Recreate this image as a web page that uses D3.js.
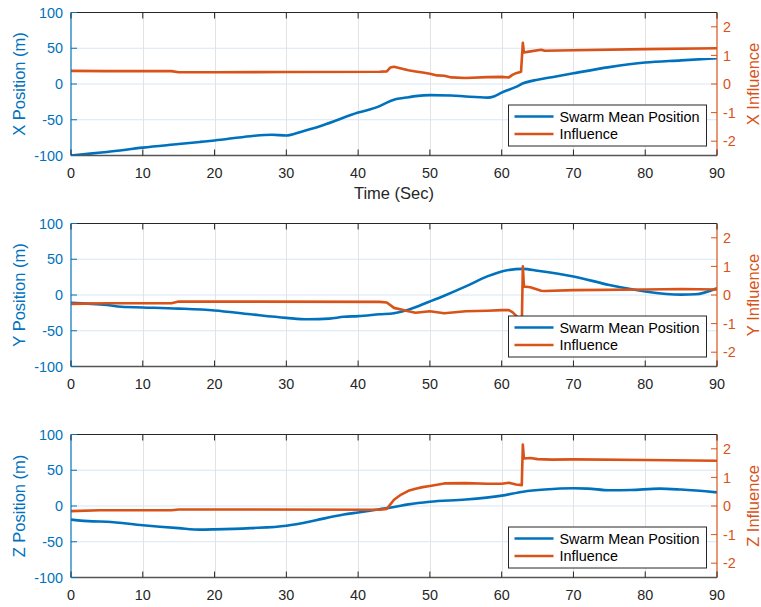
<!DOCTYPE html>
<html><head><meta charset="utf-8">
<script src="https://cdn.jsdelivr.net/npm/d3@7"></script>
<style>body{margin:0;background:#fff}svg{display:block}text{font-family:"Liberation Sans",Arial,sans-serif}</style>
</head><body>
<svg id="c" width="761" height="607"></svg>
<script>
// ---- data ----
const xTicks = [0,10,20,30,40,50,60,70,80,90];
const leftTicks = [-100,-50,0,50,100];
const rightTicks = [-2,-1,0,1,2];
const panelNames = ["X","Y","Z"];
const legendLabels = ["Swarm Mean Position","Influence"];

const xPosT = [0,3,5,10,15,18,20,25,28,30,32,35,40,43,44,45,46,47,48,50,53,55,58,59,60,62,63,65,67,70,75,80,85,90];
const xPosV = [-100,-97,-95,-89,-84,-81,-79,-73,-71,-72,-67,-58,-40,-31,-26,-22,-20,-18.5,-17,-15.5,-16,-17.5,-19,-17,-12,-4,1,6,9.5,15,23.6,30,33,36];
const xInfT = [0,5,14,15,20,30,43,44,44.5,45,46,47,48,49,50,51,52,53,55,58,60,61,61.5,62,62.7,62.95,63.1,64,65.5,66,70,80,90];
const xInfV = [0.46,0.45,0.45,0.41,0.41,0.42,0.43,0.44,0.58,0.6,0.54,0.48,0.44,0.40,0.36,0.30,0.29,0.23,0.21,0.24,0.25,0.23,0.32,0.38,0.43,1.44,1.1,1.14,1.2,1.16,1.18,1.22,1.25];

const yPosT = [0,5,7,10,15,20,25,30,33,36,38,40,43,45,47,50,52,55,58,60,63,65,70,75,80,85,87,90];
const yPosV = [-11,-14,-16.5,-17.4,-19,-21.6,-27,-32,-34,-33,-30.5,-29.6,-27,-25.4,-20.6,-9,-1,12,26,33,36.6,34,26,14,5,0.5,1,9.4];
const yInfT = [0,5,14,15,20,43,44,45,46,47,48,50,52,55,58,60,61,61.5,62,62.4,62.8,62.95,63.1,64,65.5,66,70,80,85,90];
const yInfV = [-0.31,-0.29,-0.29,-0.23,-0.23,-0.24,-0.26,-0.45,-0.51,-0.57,-0.62,-0.57,-0.64,-0.57,-0.55,-0.53,-0.53,-0.6,-0.72,-0.85,-1.1,1.0,0.3,0.27,0.15,0.14,0.17,0.19,0.21,0.19];

const zPosT = [0,3,5,10,15,18,20,25,30,33,35,38,40,43,45,47,50,55,60,63,66,70,72,75,78,82,85,90];
const zPosV = [-19,-21.5,-22,-27,-31,-33,-32.7,-31,-27.6,-22.4,-18,-12,-9,-4.5,-1.4,2.3,6,9,14.5,20,23,24.8,24.3,22,22.4,24.3,23,19];
const zInfT = [0,4,14,15,43,44,45,46,47,48,49,50,52,55,58,60,61,62,62.8,62.95,63.1,64,65,67,70,80,90];
const zInfV = [-0.18,-0.15,-0.15,-0.12,-0.13,-0.1,0.22,0.4,0.53,0.6,0.66,0.7,0.79,0.8,0.78,0.78,0.81,0.75,0.73,2.15,1.66,1.68,1.64,1.62,1.63,1.61,1.58];

const panels = [
  {name:"X", posT:xPosT, posV:xPosV, infT:xInfT, infV:xInfV, xlabel:"Time (Sec)"},
  {name:"Y", posT:yPosT, posV:yPosV, infT:yInfT, infV:yInfV, xlabel:null},
  {name:"Z", posT:zPosT, posV:zPosV, infT:zInfT, infV:zInfV, xlabel:null}
];

// ---- layout ----
const BLUE="#0072BD", ORANGE="#D95319", DARK="#262626";
const L=71, R=717, H=143, tops=[12.5,223.5,434.5];
const svg = d3.select("#c");
const x = d3.scaleLinear().domain([0,90]).range([L,R]);

panels.forEach((p,i)=>{
  const top=tops[i], bot=top+H;
  const yL = d3.scaleLinear().domain([-100,100]).range([bot,top]);
  const yR = d3.scaleLinear().domain([-2.5,2.5]).range([bot,top]);
  const g = svg.append("g");
  const cid="clip"+i;
  g.append("clipPath").attr("id",cid).append("rect").attr("x",L).attr("y",top).attr("width",R-L).attr("height",H);
  // grid
  g.selectAll(".vg").data(xTicks.slice(1,-1)).join("line")
    .attr("x1",d=>Math.round(x(d))+0.5).attr("x2",d=>Math.round(x(d))+0.5).attr("y1",top).attr("y2",bot)
    .attr("stroke","#e3e3e3").attr("stroke-width",1);
  g.selectAll(".hg").data(leftTicks.slice(1,-1)).join("line")
    .attr("x1",L).attr("x2",R).attr("y1",d=>yL(d)).attr("y2",d=>yL(d))
    .attr("stroke","#d8e6f3").attr("stroke-width",1);
  // lines
  const posData = p.posT.map((t,k)=>[t,p.posV[k]]);
  const infData = p.infT.map((t,k)=>[t,p.infV[k]]);
  const lg = g.append("g").attr("clip-path",`url(#${cid})`);
  lg.append("path").datum(posData)
    .attr("d",d3.line().x(d=>x(d[0])).y(d=>yL(d[1])).curve(d3.curveMonotoneX))
    .attr("fill","none").attr("stroke",BLUE).attr("stroke-width",2.6).attr("stroke-linejoin","round");
  lg.append("path").datum(infData)
    .attr("d",d3.line().x(d=>x(d[0])).y(d=>yR(d[1])))
    .attr("fill","none").attr("stroke",ORANGE).attr("stroke-width",2.6).attr("stroke-linejoin","round");
  // box
  g.append("line").attr("x1",L).attr("x2",R).attr("y1",top).attr("y2",top).attr("stroke",DARK).attr("stroke-width",1);
  g.append("line").attr("x1",L).attr("x2",R).attr("y1",bot).attr("y2",bot).attr("stroke","#555").attr("stroke-width",1.3);
  g.append("line").attr("x1",L).attr("x2",L).attr("y1",top).attr("y2",bot).attr("stroke",BLUE).attr("stroke-width",1.2);
  g.append("line").attr("x1",R).attr("x2",R).attr("y1",top).attr("y2",bot).attr("stroke",ORANGE).attr("stroke-width",1.2);
  // x ticks
  xTicks.forEach(t=>{
    g.append("line").attr("x1",x(t)).attr("x2",x(t)).attr("y1",bot).attr("y2",bot-6).attr("stroke",DARK);
    g.append("line").attr("x1",x(t)).attr("x2",x(t)).attr("y1",top).attr("y2",top+6).attr("stroke",DARK);
  });
  g.selectAll(".xt").data(xTicks).join("text").attr("x",d=>x(d)).attr("y",bot+22.5)
    .attr("text-anchor","middle").attr("font-size",14.4).attr("fill",DARK).text(d=>d);
  // left ticks
  g.selectAll(".lt").data(leftTicks).join("line").attr("x1",L).attr("x2",L+6).attr("y1",d=>yL(d)).attr("y2",d=>yL(d)).attr("stroke",BLUE);
  g.selectAll(".ltx").data(leftTicks).join("text").attr("x",L-8).attr("y",d=>yL(d)).attr("dy","0.36em")
    .attr("text-anchor","end").attr("font-size",14.4).attr("fill",BLUE).text(d=>d);
  // right ticks
  g.selectAll(".rt").data(rightTicks).join("line").attr("x1",R).attr("x2",R-6).attr("y1",d=>yR(d)).attr("y2",d=>yR(d)).attr("stroke",ORANGE);
  g.selectAll(".rtx").data(rightTicks).join("text").attr("x",R+6).attr("y",d=>yR(d)).attr("dy","0.36em")
    .attr("text-anchor","start").attr("font-size",14.4).attr("fill",ORANGE).text(d=>d);
  // axis labels
  const cy=(top+bot)/2;
  g.append("text").attr("transform",`translate(19,${cy}) rotate(-90)`).attr("dy","0.36em")
    .attr("text-anchor","middle").attr("font-size",16.5).attr("fill",BLUE).text(p.name+" Position (m)");
  g.append("text").attr("transform",`translate(753,${cy}) rotate(-90)`).attr("dy","0.36em")
    .attr("text-anchor","middle").attr("font-size",16.5).attr("fill",ORANGE).text(p.name+" Influence");
  if(p.xlabel){
    g.append("text").attr("x",(L+R)/2).attr("y",bot+43.5).attr("text-anchor","middle")
      .attr("font-size",16.5).attr("fill",DARK).text(p.xlabel);
  }
  // legend
  const lx=508.5, ly=top+92.5, lw=198, lh=41;
  const leg=g.append("g");
  leg.append("rect").attr("x",lx).attr("y",ly).attr("width",lw).attr("height",lh).attr("fill","#fff").attr("stroke",DARK).attr("stroke-width",1);
  [BLUE,ORANGE].forEach((c,k)=>{
    const yy=ly+11.5+k*17.5;
    leg.append("line").attr("x1",lx+6).attr("x2",lx+45).attr("y1",yy).attr("y2",yy).attr("stroke",c).attr("stroke-width",2.6);
    leg.append("text").attr("x",lx+51).attr("y",yy).attr("dy","0.36em").attr("font-size",14.4).attr("fill","#000").text(legendLabels[k]);
  });
});
</script>
</body></html>
